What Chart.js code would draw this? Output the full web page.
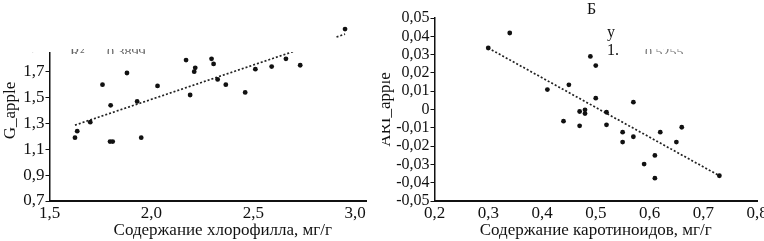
<!DOCTYPE html>
<html>
<head>
<meta charset="utf-8">
<script src="https://cdn.jsdelivr.net/npm/chart.js@4/dist/chart.umd.min.js"></script>
<style>
  html, body { margin:0; padding:0; background:#fff; width:764px; height:241px; overflow:hidden; }
  #L { position:absolute; left:0; top:0; width:367px; height:241px; overflow:hidden; background:#fff; }
  #R { position:absolute; left:382px; top:0; width:382px; height:241px; overflow:hidden; background:#fff; }
  #cL { position:absolute; left:0; top:0; }
  #cR { position:absolute; left:-7px; top:0; }
</style>
</head>
<body>
<div id="L"><canvas id="cL" width="400" height="241" style="width:400px;height:241px"></canvas></div>
<div id="R"><canvas id="cR" width="400" height="241" style="width:400px;height:241px"></canvas></div>
<script>
// ---- Data: left panel (chlorophyll vs G_apple)
const chlorophyll = [1.625, 1.636, 1.70, 1.76, 1.80, 1.797, 1.81, 1.88, 1.93, 1.95, 2.03, 2.17, 2.19, 2.21, 2.215, 2.295, 2.305, 2.325, 2.365, 2.46, 2.51, 2.59, 2.66, 2.73, 2.95];
const gApple      = [1.19, 1.24, 1.31, 1.60, 1.44, 1.16, 1.16, 1.69, 1.47, 1.19, 1.59, 1.79, 1.52, 1.70, 1.73, 1.80, 1.76, 1.64, 1.60, 1.54, 1.72, 1.74, 1.80, 1.75, 2.03];
const trendLX = [1.625, 2.95];
const trendLY = [1.287, 1.991];
const leftXTicks = [1.5, 2.0, 2.5, 3.0];
const leftYTicks = [0.7, 0.9, 1.1, 1.3, 1.5, 1.7, 1.9, 2.1];

// ---- Data: right panel (carotenoids vs ARI_apple)
const carotenoids = [0.30, 0.34, 0.41, 0.45, 0.44, 0.47, 0.47, 0.48, 0.48, 0.49, 0.50, 0.50, 0.52, 0.52, 0.55, 0.55, 0.57, 0.57, 0.59, 0.61, 0.61, 0.62, 0.65, 0.66, 0.73];
const ariApple    = [0.0336, 0.0418, 0.0109, 0.0135, -0.0064, -0.0011, -0.0089, -0.0002, -0.0022, 0.029, 0.024, 0.0062, -0.0015, -0.0084, -0.0124, -0.0178, 0.004, -0.0149, -0.0298, -0.0251, -0.0375, -0.0124, -0.0178, -0.0097, -0.0362];
const trendRX = [0.30, 0.73];
const trendRY = [0.0336, -0.0362];
const rightXTicks = [0.2, 0.3, 0.4, 0.5, 0.6, 0.7, 0.8];
const rightYTicks = [-0.05, -0.04, -0.03, -0.02, -0.01, 0, 0.01, 0.02, 0.03, 0.04, 0.05];

const FONT = "'Liberation Serif', 'Times New Roman', serif";
const INK = '#111';

function pts(xs, ys) { return xs.map((x, i) => ({ x: x, y: ys[i] })); }
function comma(v, d) { return v === 0 ? '0' : v.toFixed(d).replace('.', ','); }

const overlayPlugin = {
  id: 'overlay',
  afterDraw(chart, args, opts) {
    const ctx = chart.ctx;
    ctx.save();
    if (opts.box) {
      ctx.fillStyle = '#fff';
      ctx.fillRect(opts.box[0], opts.box[1], opts.box[2], opts.box[3]);
    }
    (opts.texts || []).forEach(t => {
      ctx.save();
      if (t.clip) { ctx.beginPath(); ctx.rect(t.clip[0], t.clip[1], t.clip[2], t.clip[3]); ctx.clip(); }
      ctx.fillStyle = t.color || INK;
      ctx.font = t.font;
      ctx.textBaseline = 'alphabetic';
      ctx.fillText(t.text, t.x, t.y);
      ctx.restore();
    });
    ctx.restore();
  }
};

function makeChart(id, cfg) {
  return new Chart(document.getElementById(id), {
    type: 'scatter',
    data: {
      datasets: [
        { data: pts(cfg.xs, cfg.ys), backgroundColor: INK, borderColor: INK, pointRadius: 2.4, pointHoverRadius: 2.4, borderWidth: 0 },
        { data: pts(cfg.tx, cfg.ty), showLine: true, borderColor: '#222', borderWidth: 1.7, borderDash: [2, 2], pointRadius: 0, fill: false }
      ]
    },
    options: {
      responsive: false,
      animation: false,
      devicePixelRatio: 1,
      layout: { padding: { top: cfg.padTop, right: cfg.padRight, left: 0, bottom: 0 } },
      plugins: { legend: { display: false }, tooltip: { enabled: false }, overlay: cfg.overlay },
      scales: {
        x: {
          type: 'linear', min: cfg.xmin, max: cfg.xmax,
          afterBuildTicks: s => { s.ticks = cfg.xticks.map(v => ({ value: v })); },
          afterFit: s => { s.height = 40; },
          grid: { display: false, drawTicks: false },
          border: { display: true, color: INK, width: 2 },
          ticks: { color: INK, font: { family: FONT, size: 17 }, padding: 2, maxRotation: 0, autoSkip: false,
                   callback: v => comma(v, 1) },
          title: { display: true, text: cfg.xtitle, color: INK, font: { family: FONT, size: 17 }, padding: { top: 1, bottom: 0 } }
        },
        y: {
          type: 'linear', min: cfg.ymin, max: cfg.ymax,
          afterBuildTicks: s => { s.ticks = cfg.yticks.map(v => ({ value: v })); },
          afterFit: s => { s.width = cfg.yw; },
          grid: { display: true, drawOnChartArea: false, drawTicks: true, tickLength: 4, color: INK, lineWidth: 1 },
          border: { display: true, color: INK, width: 1.5 },
          ticks: { color: INK, font: { family: FONT, size: cfg.ytickSize }, padding: 1, autoSkip: false,
                   callback: v => comma(v, cfg.yd) },
          title: { display: true, text: cfg.ytitle, color: INK, font: { family: FONT, size: 17 }, padding: { top: cfg.ytitlePad, bottom: 0 } }
        }
      }
    },
    plugins: [overlayPlugin]
  });
}

makeChart('cL', {
  xs: chlorophyll, ys: gApple, tx: trendLX, ty: trendLY,
  xmin: 1.5, xmax: 3.2, ymin: 0.7, ymax: 2.1, xticks: leftXTicks, yticks: leftYTicks, yd: 1,
  yw: 49.5, padTop: 20, padRight: 4, ytitlePad: 0, ytickSize: 17,
  xtitle: 'Содержание хлорофилла, мг/г', ytitle: 'G_apple',
  overlay: {
    box: [0, 0, 336, 52],
    texts: [
      { text: 'R²', x: 70, y: 57, font: "15px " + FONT, color: '#666', clip: [60, 49, 100, 5] },
      { text: '0,3899', x: 107, y: 57, font: "14px " + FONT, color: '#666', clip: [60, 49, 100, 5] }
    ]
  }
});

makeChart('cR', {
  xs: carotenoids, ys: ariApple, tx: trendRX, ty: trendRY,
  xmin: 0.2, xmax: 0.8, ymin: -0.05, ymax: 0.05, xticks: rightXTicks, yticks: rightYTicks, yd: 2,
  yw: 59.5, padTop: 18, padRight: 18, ytitlePad: 0, ytickSize: 16,
  xtitle: 'Содержание каротиноидов, мг/г', ytitle: 'ARI_apple',
  overlay: {
    texts: [
      { text: 'Б', x: 212, y: 14, font: "16px " + FONT },
      { text: 'y', x: 232, y: 37, font: "16px " + FONT },
      { text: '1.', x: 232, y: 55, font: "16px " + FONT },
      { text: '0,5255', x: 270, y: 57, font: "14px " + FONT, color: '#777', clip: [264, 49, 60, 5] }
    ]
  }
});
</script>
</body>
</html>
